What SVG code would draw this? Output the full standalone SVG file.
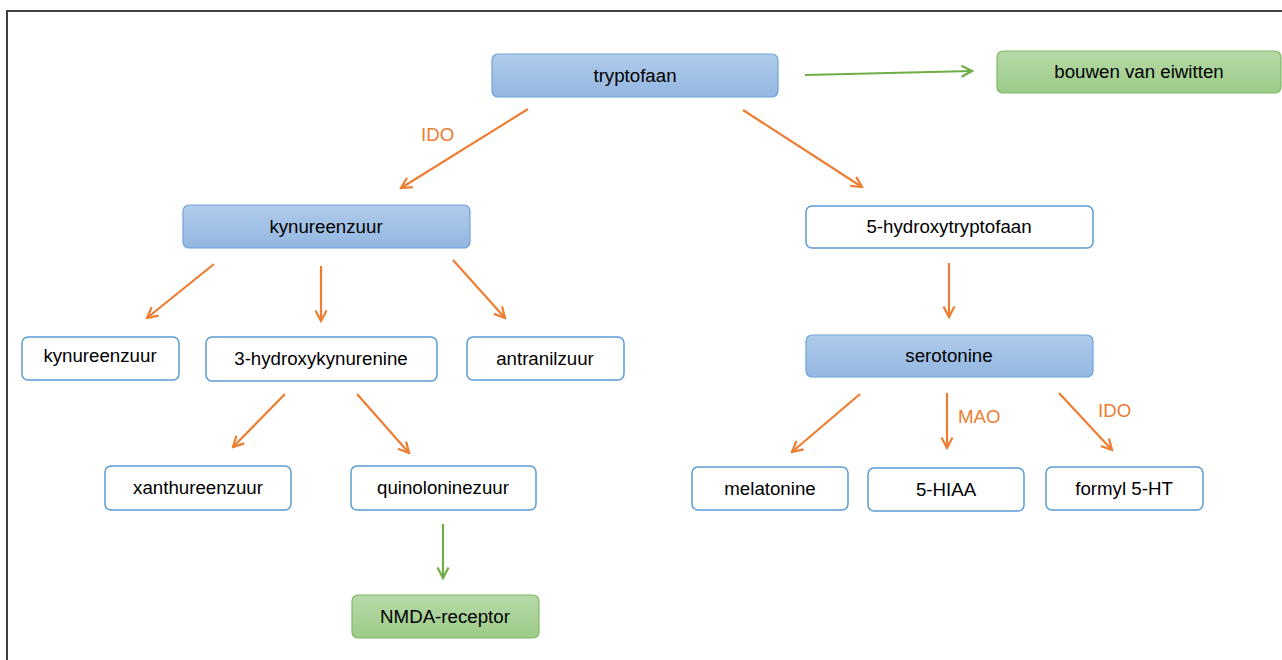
<svg xmlns="http://www.w3.org/2000/svg" width="1282" height="660" viewBox="0 0 1282 660">
<defs>
<linearGradient id="gb" x1="0" y1="0" x2="0" y2="1"><stop offset="0" stop-color="#B0CBEA"/><stop offset="1" stop-color="#93B7E1"/></linearGradient>
<linearGradient id="gg" x1="0" y1="0" x2="0" y2="1"><stop offset="0" stop-color="#B7D9A9"/><stop offset="1" stop-color="#9DCB87"/></linearGradient>
<marker id="ao" viewBox="0 0 14 14" refX="12" refY="7" markerWidth="14" markerHeight="14" markerUnits="userSpaceOnUse" orient="auto"><path d="M1.5,1.5 L12,7 L1.5,12.5" fill="none" stroke="#ED7D31" stroke-width="2.2"/></marker>
<marker id="ag" viewBox="0 0 14 14" refX="12" refY="7" markerWidth="14" markerHeight="14" markerUnits="userSpaceOnUse" orient="auto"><path d="M1.5,1.5 L12,7 L1.5,12.5" fill="none" stroke="#70AD47" stroke-width="2.2"/></marker>
</defs>
<style>
.t{font-family:"Liberation Sans",Arial,sans-serif;font-size:18.7px;fill:#000;text-anchor:middle}
.lb{font-family:"Liberation Sans",Arial,sans-serif;font-size:18.7px;fill:#ED7D31}
.blue{fill:url(#gb);stroke:#6FA3DA;stroke-width:1.2}
.green{fill:url(#gg);stroke:#80B765;stroke-width:1.2}
.white{fill:#fff;stroke:#5B9BD5;stroke-width:1.5}
.o{stroke:#ED7D31;stroke-width:2.2;fill:none;marker-end:url(#ao)}
.g{stroke:#70AD47;stroke-width:2.2;fill:none;marker-end:url(#ag)}
</style>
<rect width="1282" height="660" fill="#fff"/>
<path d="M7,660 V11 H1282" fill="none" stroke="#404040" stroke-width="2"/>
<g id="connectors">
<line class="g" x1="805" y1="75" x2="972" y2="71"/>
<line class="o" x1="528" y1="109" x2="401" y2="188"/>
<line class="o" x1="743" y1="110" x2="862" y2="187"/>
<line class="o" x1="214" y1="264" x2="147" y2="318"/>
<line class="o" x1="321" y1="266" x2="321" y2="321"/>
<line class="o" x1="453" y1="260" x2="505" y2="318"/>
<line class="o" x1="285" y1="394" x2="233" y2="447"/>
<line class="o" x1="357" y1="394" x2="409" y2="453"/>
<line class="g" x1="443" y1="524" x2="443" y2="578"/>
<line class="o" x1="949" y1="263" x2="949" y2="317"/>
<line class="o" x1="860" y1="394" x2="792" y2="452"/>
<line class="o" x1="947" y1="393" x2="947" y2="448"/>
<line class="o" x1="1059" y1="393" x2="1112" y2="450"/>
<text class="lb" x="421" y="141">IDO</text>
<text class="lb" x="958" y="423">MAO</text>
<text class="lb" x="1098" y="417">IDO</text>
</g>
<g id="tryptofaan"><rect class="blue" x="492" y="54" width="286" height="43" rx="6"/><text class="t" x="635" y="82">tryptofaan</text></g>
<g id="bouwen"><rect class="green" x="997" y="51" width="284" height="42" rx="6"/><text class="t" x="1139" y="78">bouwen van eiwitten</text></g>
<g id="kynureenzuur1"><rect class="blue" x="183" y="205" width="287" height="43" rx="6"/><text class="t" x="326" y="233">kynureenzuur</text></g>
<g id="hydroxytryptofaan"><rect class="white" x="806" y="206" width="287" height="42" rx="6"/><text class="t" x="949" y="233">5-hydroxytryptofaan</text></g>
<g id="kynureenzuur2"><rect class="white" x="22" y="337" width="157" height="43" rx="6"/><text class="t" x="100" y="362">kynureenzuur</text></g>
<g id="hydroxykynurenine"><rect class="white" x="206" y="337" width="231" height="44" rx="6"/><text class="t" x="321" y="365">3-hydroxykynurenine</text></g>
<g id="antranilzuur"><rect class="white" x="467" y="337" width="157" height="43" rx="6"/><text class="t" x="545" y="365">antranilzuur</text></g>
<g id="serotonine"><rect class="blue" x="806" y="335" width="287" height="42" rx="6"/><text class="t" x="949" y="362">serotonine</text></g>
<g id="xanthureenzuur"><rect class="white" x="105" y="466" width="186" height="44" rx="6"/><text class="t" x="198" y="494">xanthureenzuur</text></g>
<g id="quinoloninezuur"><rect class="white" x="351" y="466" width="185" height="44" rx="6"/><text class="t" x="443" y="494">quinoloninezuur</text></g>
<g id="melatonine"><rect class="white" x="692" y="467" width="156" height="43" rx="6"/><text class="t" x="770" y="495">melatonine</text></g>
<g id="hiaa"><rect class="white" x="868" y="468" width="156" height="43" rx="6"/><text class="t" x="946" y="496">5-HIAA</text></g>
<g id="formyl"><rect class="white" x="1046" y="467" width="157" height="43" rx="6"/><text class="t" x="1124" y="495">formyl 5-HT</text></g>
<g id="nmda"><rect class="green" x="352" y="595" width="187" height="43" rx="6"/><text class="t" x="445" y="623">NMDA-receptor</text></g>
</svg>
